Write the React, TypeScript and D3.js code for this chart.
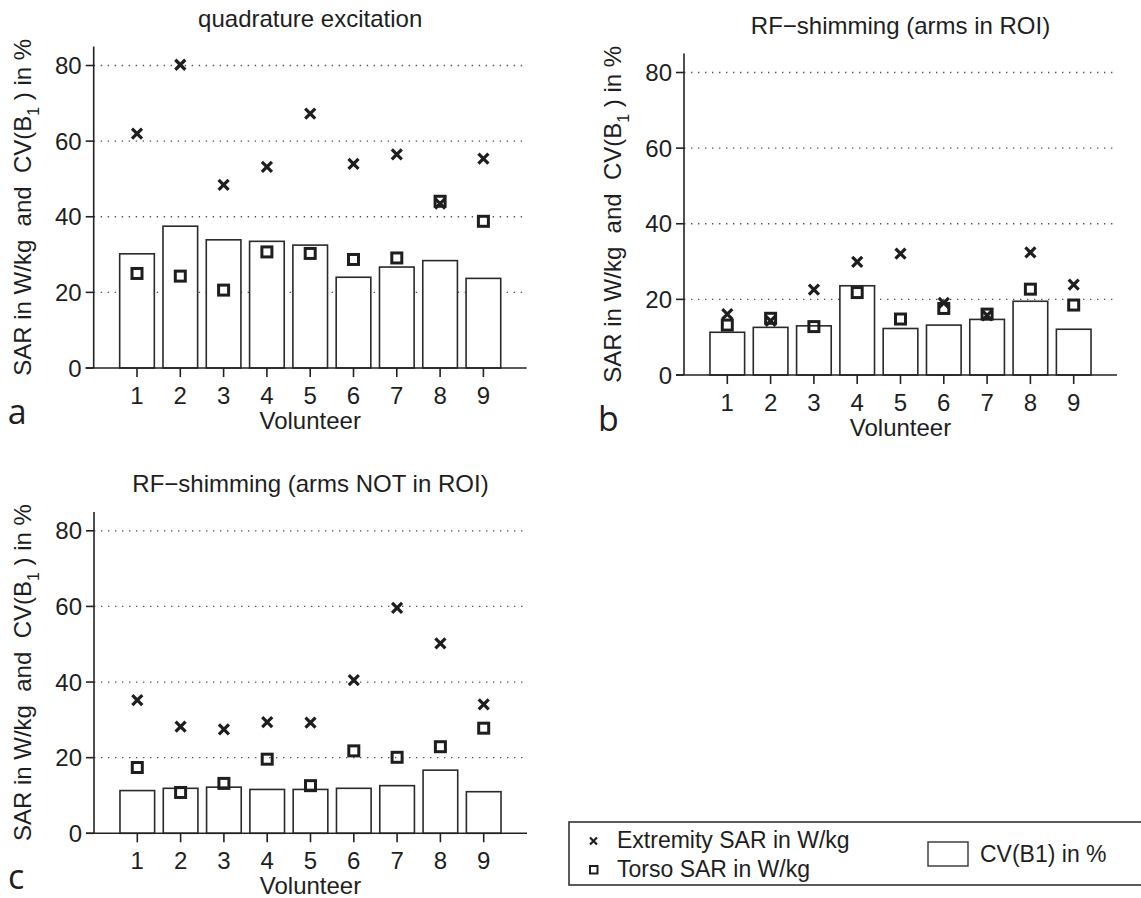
import React from "react";
import * as d3 from "d3";

const volunteers = [1, 2, 3, 4, 5, 6, 7, 8, 9];
const yTicks = [0, 20, 40, 60, 80];
const gridTicks = [20, 40, 60, 80];

const quadCV = [30.2, 37.5, 33.9, 33.5, 32.5, 24.0, 26.7, 28.4, 23.7];
const quadExt = [62.0, 80.2, 48.4, 53.2, 67.3, 54.0, 56.5, 43.5, 55.4];
const quadTorso = [25.0, 24.3, 20.6, 30.7, 30.3, 28.7, 29.1, 44.1, 38.8];

const armsInCV = [11.3, 12.6, 13.0, 23.6, 12.3, 13.2, 14.7, 19.5, 12.1];
const armsInExt = [16.1, 14.3, 22.6, 29.9, 32.1, 19.1, 15.8, 32.4, 23.9];
const armsInTorso = [13.2, 15.0, 12.8, 21.8, 14.8, 17.6, 16.1, 22.7, 18.5];

const armsOutCV = [11.3, 11.9, 12.2, 11.6, 11.6, 11.9, 12.6, 16.7, 11.0];
const armsOutExt = [35.2, 28.2, 27.5, 29.4, 29.3, 40.5, 59.6, 50.2, 34.1];
const armsOutTorso = [17.4, 10.8, 13.2, 19.6, 12.6, 21.8, 20.1, 22.9, 27.8];

const titles = ["quadrature excitation", "RF\u2212shimming (arms in ROI)", "RF\u2212shimming (arms NOT in ROI)"];
const panelLetters = ["a", "b", "c"];
const legendLabels = ["Extremity SAR in W/kg", "Torso SAR in W/kg", "CV(B1) in %"];

const FONT = "'Liberation Sans', Arial, Helvetica, sans-serif";
const INK = "#1e1e1e";

type PanelProps = {
  left: number;
  bottom: number;
  title: string;
  letter: string;
  cv: number[];
  ext: number[];
  torso: number[];
};

const W = 433;
const H = 321.4;

function Panel({ left, bottom, title, letter, cv, ext, torso }: PanelProps) {
  const x = d3.scaleLinear().domain([0, 10]).range([left, left + W]);
  const y = d3.scaleLinear().domain([0, 85]).range([bottom, bottom - H]);
  const bw = x(0.8) - x(0);
  const cs = 5;
  const sq = 5;
  return (
    <g>
      <text x={x(5)} y={y(85) - 20} textAnchor="middle" fontSize={24} fontFamily={FONT} fill={INK}>
        {title}
      </text>
      {gridTicks.map((t) => (
        <line key={"g" + t} x1={x(0)} x2={x(10)} y1={y(t)} y2={y(t)} stroke="#555" strokeWidth={1.3} strokeDasharray="1.4,5.6" />
      ))}
      {volunteers.map((v, i) => (
        <rect key={"b" + v} x={x(v) - bw / 2} y={y(cv[i])} width={bw} height={y(0) - y(cv[i])} fill="#fff" stroke="#2a2a2a" strokeWidth={1.6} />
      ))}
      {volunteers.map((v, i) => (
        <rect key={"s" + v} x={x(v) - sq} y={y(torso[i]) - sq} width={sq * 2} height={sq * 2} fill="none" stroke={INK} strokeWidth={3} />
      ))}
      {volunteers.map((v, i) => (
        <path key={"x" + v} d={`M${x(v) - cs},${y(ext[i]) - cs}L${x(v) + cs},${y(ext[i]) + cs}M${x(v) - cs},${y(ext[i]) + cs}L${x(v) + cs},${y(ext[i]) - cs}`} stroke={INK} strokeWidth={3.2} fill="none" />
      ))}
      <line x1={x(0)} x2={x(0)} y1={y(0)} y2={y(85)} stroke="#222" strokeWidth={1.6} />
      <line x1={x(0) - 8} x2={x(10)} y1={y(0)} y2={y(0)} stroke="#222" strokeWidth={1.6} />
      {yTicks.map((t) => (
        <g key={"yt" + t}>
          <line x1={x(0) - 8} x2={x(0)} y1={y(t)} y2={y(t)} stroke="#222" strokeWidth={1.6} />
          <text x={x(0) - 12} y={y(t)} dy="0.36em" textAnchor="end" fontSize={24} fontFamily={FONT} fill={INK}>
            {t}
          </text>
        </g>
      ))}
      {volunteers.map((v) => (
        <g key={"xt" + v}>
          <line x1={x(v)} x2={x(v)} y1={y(0)} y2={y(0) + 9} stroke="#222" strokeWidth={1.6} />
          <text x={x(v)} y={y(0) + 36} textAnchor="middle" fontSize={24} fontFamily={FONT} fill={INK}>
            {v}
          </text>
        </g>
      ))}
      <text x={x(5)} y={y(0) + 61} textAnchor="middle" fontSize={24} fontFamily={FONT} fill={INK}>
        Volunteer
      </text>
      <text
        transform={`translate(${x(0) - 63},${(y(0) + y(85)) / 2}) rotate(-90)`}
        textAnchor="middle"
        fontSize={24}
        fontFamily={FONT}
        fill={INK}
        style={{ whiteSpace: "pre" }}
      >
        {"SAR in W/kg  and  CV(B"}
        <tspan fontSize={16} dy={8}>1</tspan>
        <tspan dy={-8}>{" ) in %"}</tspan>
      </text>
      <text x={x(0) - 86} y={y(0) + 56} fontSize={34} fontFamily="'Open Sans', 'DejaVu Sans', sans-serif" fill={INK}>
        {letter}
      </text>
    </g>
  );
}

export default function App() {
  const panels = [
    { left: 93.7, bottom: 368, cv: quadCV, ext: quadExt, torso: quadTorso },
    { left: 684, bottom: 375, cv: armsInCV, ext: armsInExt, torso: armsInTorso },
    { left: 94, bottom: 833.3, cv: armsOutCV, ext: armsOutExt, torso: armsOutTorso },
  ];
  return (
    <svg width={1141} height={898} style={{ position: "absolute", left: 0, top: 0, background: "#fff" }}>
      <rect x={0} y={0} width={1141} height={898} fill="#fff" />
      {panels.map((p, i) => (
        <Panel key={i} left={p.left} bottom={p.bottom} title={titles[i]} letter={panelLetters[i]} cv={p.cv} ext={p.ext} torso={p.torso} />
      ))}
      <g>
        <rect x={569} y={822} width={600} height={63} fill="none" stroke="#333" strokeWidth={1.6} />
        <path d="M590,837.5L597,844.5M590,844.5L597,837.5" stroke={INK} strokeWidth={2.2} />
        <rect x={590} y={866} width={7.5} height={7.5} fill="none" stroke={INK} strokeWidth={2} />
        <text x={617} y={848} fontSize={23} fontFamily={FONT} fill={INK}>{legendLabels[0]}</text>
        <text x={617} y={877} fontSize={23} fontFamily={FONT} fill={INK}>{legendLabels[1]}</text>
        <rect x={928} y={842} width={40} height={24} fill="#fff" stroke="#333" strokeWidth={1.4} />
        <text x={980} y={862} fontSize={23} fontFamily={FONT} fill={INK}>{legendLabels[2]}</text>
      </g>
    </svg>
  );
}
